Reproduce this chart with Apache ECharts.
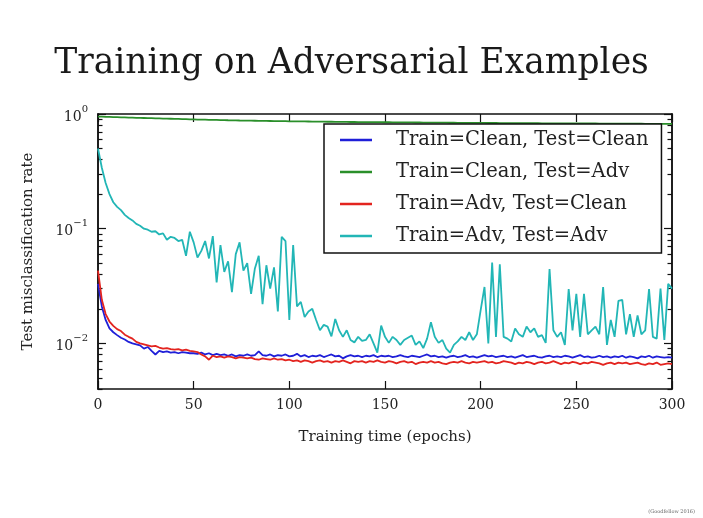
<!DOCTYPE html>
<html>
<head>
<meta charset="utf-8">
<script src="https://cdn.jsdelivr.net/npm/echarts@6/dist/echarts.min.js"></script>
<style>
html, body { margin: 0; padding: 0; background: #fff; }
#chart { width: 703px; height: 518px; }
</style>
</head>
<body>
<div id="chart"></div>
<script>
// epochs 0..300, every 2nd epoch
const epochs = Array.from({ length: 151 }, (_, i) => i * 2)

const seriesNames = [
  'Train=Clean, Test=Clean',
  'Train=Clean, Test=Adv',
  'Train=Adv, Test=Clean',
  'Train=Adv, Test=Adv',
]

const cleanClean = [
  0.033, 0.021, 0.016, 0.0135, 0.0125, 0.0118, 0.0112, 0.0108, 0.0103, 0.0100,
  0.0098, 0.0096, 0.0090, 0.0093, 0.0086, 0.0080, 0.0086, 0.0084, 0.0085, 0.0083,
  0.0084, 0.0082, 0.0084, 0.0083, 0.0082, 0.0082, 0.0081, 0.0083, 0.0080, 0.0082,
  0.0079, 0.0081, 0.0079, 0.0080, 0.0078, 0.0080, 0.0077, 0.0079, 0.0078, 0.0080,
  0.0078, 0.0079, 0.0085, 0.0079, 0.0078, 0.0080, 0.0077, 0.0079, 0.0078, 0.0080,
  0.0077, 0.0078, 0.0081, 0.0077, 0.0079, 0.0076, 0.0078, 0.0077, 0.0079, 0.0076,
  0.0078, 0.0080, 0.0077, 0.0078, 0.0074, 0.0077, 0.0079, 0.0077, 0.0078, 0.0076,
  0.0078, 0.0077, 0.0079, 0.0076, 0.0078, 0.0077, 0.0078, 0.0076, 0.0077, 0.0079,
  0.0077, 0.0076, 0.0078, 0.0077, 0.0076, 0.0078, 0.0080, 0.0077, 0.0078, 0.0076,
  0.0077, 0.0075, 0.0077, 0.0078, 0.0076, 0.0077, 0.0079, 0.0076, 0.0077, 0.0075,
  0.0077, 0.0079, 0.0077, 0.0078, 0.0076, 0.0077, 0.0078, 0.0076, 0.0077, 0.0075,
  0.0077, 0.0079, 0.0076, 0.0077, 0.0078, 0.0076, 0.0075, 0.0077, 0.0078, 0.0076,
  0.0077, 0.0076, 0.0078, 0.0077, 0.0075, 0.0077, 0.0079, 0.0076, 0.0077, 0.0075,
  0.0076, 0.0078, 0.0076, 0.0077, 0.0075, 0.0077, 0.0076, 0.0078, 0.0075, 0.0077,
  0.0076, 0.0074, 0.0077, 0.0076, 0.0078, 0.0075, 0.0077, 0.0076, 0.0075, 0.0076,
  0.0075,
]

const cleanAdv = [
  0.950, 0.948, 0.945, 0.943, 0.940, 0.938, 0.935, 0.933, 0.931, 0.929, 0.927,
  0.925, 0.923, 0.921, 0.919, 0.917, 0.915, 0.913, 0.911, 0.909, 0.907,
  0.905, 0.903, 0.901, 0.899, 0.897, 0.895, 0.893, 0.892, 0.890, 0.888,
  0.887, 0.885, 0.884, 0.882, 0.881, 0.880, 0.878, 0.877, 0.876, 0.874,
  0.873, 0.872, 0.871, 0.870, 0.869, 0.868, 0.867, 0.866, 0.865, 0.864,
  0.863, 0.862, 0.862, 0.861, 0.860, 0.859, 0.858, 0.858, 0.857, 0.856,
  0.856, 0.855, 0.854, 0.854, 0.853, 0.852, 0.852, 0.851, 0.851, 0.850,
  0.849, 0.849, 0.848, 0.848, 0.847, 0.847, 0.846, 0.846, 0.845, 0.845,
  0.844, 0.844, 0.843, 0.843, 0.842, 0.842, 0.841, 0.841, 0.840, 0.840,
  0.840, 0.839, 0.839, 0.838, 0.838, 0.838, 0.837, 0.837, 0.836, 0.836,
  0.836, 0.835, 0.835, 0.835, 0.834, 0.834, 0.833, 0.833, 0.833, 0.832,
  0.832, 0.832, 0.831, 0.831, 0.831, 0.830, 0.830, 0.830, 0.829, 0.829,
  0.829, 0.828, 0.828, 0.828, 0.827, 0.827, 0.827, 0.826, 0.826, 0.826,
  0.825, 0.825, 0.825, 0.824, 0.824, 0.824, 0.823, 0.823, 0.823, 0.822,
  0.822, 0.822, 0.821, 0.821, 0.821, 0.820, 0.820, 0.820, 0.819, 0.819,
]

const advClean = [
  0.043, 0.024, 0.018, 0.0155, 0.0142, 0.0133, 0.0128, 0.0119, 0.0114, 0.0110,
  0.0103, 0.0100, 0.0098, 0.0096, 0.0094, 0.0095, 0.0092, 0.0090, 0.0091, 0.0089,
  0.0088, 0.0089, 0.0087, 0.0088, 0.0086, 0.0085, 0.0084, 0.0080, 0.0077, 0.0072,
  0.0078, 0.0076, 0.0077, 0.0075, 0.0077, 0.0076, 0.0074, 0.0076, 0.0075, 0.0074,
  0.0075, 0.0073, 0.0072, 0.0074, 0.0073, 0.0072, 0.0074, 0.0072, 0.0073, 0.0071,
  0.0072, 0.0070, 0.0071, 0.0069, 0.0071, 0.0070, 0.0068, 0.0070, 0.0071, 0.0069,
  0.0070, 0.0068, 0.0070, 0.0069, 0.0071, 0.0069, 0.0067, 0.0070, 0.0069, 0.0070,
  0.0068, 0.0070, 0.0069, 0.0071, 0.0069, 0.0068, 0.0070, 0.0069, 0.0067, 0.0069,
  0.0070, 0.0068, 0.0069, 0.0066, 0.0068, 0.0069, 0.0068, 0.0070, 0.0068, 0.0069,
  0.0067, 0.0066, 0.0068, 0.0069, 0.0068, 0.0070, 0.0068, 0.0067, 0.0069, 0.0068,
  0.0069, 0.0070, 0.0068, 0.0069, 0.0067, 0.0068, 0.0070, 0.0069, 0.0068, 0.0066,
  0.0068, 0.0067, 0.0069, 0.0068, 0.0066, 0.0068, 0.0069, 0.0067, 0.0068, 0.0070,
  0.0068, 0.0066, 0.0068, 0.0067, 0.0069, 0.0068, 0.0066, 0.0068, 0.0067, 0.0069,
  0.0068, 0.0067, 0.0065, 0.0067, 0.0068, 0.0066, 0.0068, 0.0067, 0.0068, 0.0066,
  0.0067, 0.0068, 0.0066, 0.0065, 0.0067, 0.0066, 0.0068, 0.0065, 0.0066, 0.0067,
  0.0066,
]

const advAdv = [
  0.50, 0.34, 0.25, 0.20, 0.17, 0.155, 0.145, 0.132, 0.124, 0.118,
  0.110, 0.106, 0.100, 0.098, 0.094, 0.095, 0.089, 0.091, 0.080, 0.085,
  0.083, 0.078, 0.080, 0.058, 0.094, 0.076, 0.056, 0.064, 0.078, 0.055,
  0.086, 0.034, 0.072, 0.042, 0.052, 0.028, 0.060, 0.076, 0.043, 0.050,
  0.027, 0.045, 0.058, 0.022, 0.048, 0.030, 0.046, 0.019, 0.085, 0.078,
  0.016, 0.072, 0.021, 0.023, 0.017, 0.019, 0.020, 0.016, 0.013, 0.0145,
  0.014, 0.0115, 0.0163, 0.013, 0.0114, 0.013, 0.0107, 0.0102, 0.0114, 0.0105,
  0.0107, 0.012, 0.0100, 0.0083, 0.0143, 0.0114, 0.0101, 0.0114, 0.0107, 0.0097,
  0.0107, 0.0112, 0.0117, 0.0097, 0.0104, 0.0091, 0.0110, 0.0153, 0.0114, 0.0101,
  0.0107, 0.0090, 0.0083, 0.0097, 0.0104, 0.0114, 0.0107, 0.0125, 0.0107, 0.0120,
  0.0195, 0.031, 0.0100, 0.0506, 0.0114, 0.049, 0.0114, 0.0110, 0.0104, 0.0135,
  0.0120, 0.0114, 0.0140, 0.0125, 0.0135, 0.0114, 0.0118, 0.0101, 0.0444, 0.0130,
  0.0114, 0.0125, 0.0097, 0.0298, 0.0130, 0.0270, 0.0114, 0.0270, 0.0120, 0.0130,
  0.0140, 0.0120, 0.0310, 0.0097, 0.0160, 0.0114, 0.0235, 0.0240, 0.0120, 0.0180,
  0.0114, 0.0175, 0.0120, 0.0130, 0.0298, 0.0114, 0.0110, 0.0300, 0.0107, 0.0330,
  0.0300,
]

const xTicks = { min: 0, max: 300, interval: 50 }
const yRange = { min: 0.004, max: 1 }
const majorYTicks = [0.01, 0.1, 1]
const minorYTicks = [
  0.004, 0.005, 0.006, 0.007, 0.008, 0.009,
  0.02, 0.03, 0.04, 0.05, 0.06, 0.07, 0.08, 0.09,
  0.2, 0.3, 0.4, 0.5, 0.6, 0.7, 0.8, 0.9,
]

const colors = ['#1f1fd8', '#2a8f2a', '#e3241f', '#22b6b6']
const FONT = 'DejaVu Serif'
const frame = { color: '#111', width: 1.5 }
const tickStyle = { color: '#111', width: 1.2 }

const chart = echarts.init(document.getElementById('chart'))

function supLabel(v) {
  const e = Math.round(Math.log10(v))
  return '{b|10}{s|' + (e < 0 ? '\u2212' + -e : e) + '}'
}

function yAxisFor(position, ticks, len, withLabels) {
  return {
    type: 'log',
    logBase: 10,
    position,
    min: yRange.min,
    max: yRange.max,
    axisLine: { show: true, onZero: false, lineStyle: frame },
    axisTick: { show: true, inside: true, length: len, customValues: ticks, lineStyle: tickStyle },
    axisLabel: withLabels
      ? {
          show: true,
          customValues: ticks,
          margin: 10,
          formatter: supLabel,
          rich: {
            b: { fontFamily: FONT, fontSize: 14, color: '#222', lineHeight: 20, verticalAlign: 'bottom' },
            s: { fontFamily: FONT, fontSize: 10, color: '#222', lineHeight: 11, verticalAlign: 'top' },
          },
        }
      : { show: false },
    splitLine: { show: false },
    minorTick: { show: false },
  }
}

const leftAxis = yAxisFor('left', majorYTicks, 8, true)
leftAxis.name = 'Test misclassification rate'
leftAxis.nameLocation = 'middle'
leftAxis.nameGap = 62
leftAxis.nameTextStyle = { fontFamily: FONT, fontSize: 15, color: '#222' }

const lines = [cleanClean, cleanAdv, advClean, advAdv]

chart.setOption({
  animation: false,
  backgroundColor: '#fff',
  title: {
    text: 'Training on Adversarial Examples',
    left: 'center',
    top: 42,
    textStyle: { fontFamily: FONT, fontSize: 34.5, fontWeight: 'normal', color: '#1a1a1a' },
  },
  grid: { left: 98, right: 31, top: 114, bottom: 129 },
  legend: {
    orient: 'vertical',
    left: 324,
    top: 124,
    backgroundColor: '#fff',
    borderColor: '#111',
    borderWidth: 1.5,
    borderRadius: 0,
    padding: [6, 13, 7, 16],
    icon: 'rect',
    itemWidth: 32,
    itemHeight: 2.5,
    itemGap: 12,
    textStyle: { fontFamily: FONT, fontSize: 19.5, color: '#222', lineHeight: 20, padding: [0, 0, 0, 19] },
    data: seriesNames,
  },
  xAxis: [
    {
      type: 'value',
      position: 'bottom',
      ...xTicks,
      axisLine: { show: true, onZero: false, lineStyle: frame },
      axisTick: { inside: true, length: 8, lineStyle: tickStyle },
      axisLabel: { fontFamily: FONT, fontSize: 14, color: '#222', margin: 9 },
      splitLine: { show: false },
      name: 'Training time (epochs)',
      nameLocation: 'middle',
      nameGap: 41,
      nameTextStyle: { fontFamily: FONT, fontSize: 15, color: '#222' },
    },
    {
      type: 'value',
      position: 'top',
      ...xTicks,
      axisLine: { show: true, onZero: false, lineStyle: frame },
      axisTick: { inside: true, length: 8, lineStyle: tickStyle },
      axisLabel: { show: false },
      splitLine: { show: false },
    },
  ],
  yAxis: [
    leftAxis,
    yAxisFor('left', minorYTicks, 4.5, false),
    yAxisFor('right', majorYTicks, 8, false),
    yAxisFor('right', minorYTicks, 4.5, false),
  ],
  series: lines.map((vals, i) => ({
    name: seriesNames[i],
    type: 'line',
    xAxisIndex: 0,
    yAxisIndex: 0,
    data: epochs.map((e, j) => [e, vals[j]]),
    symbol: 'none',
    showSymbol: false,
    lineStyle: { width: 1.8, color: colors[i] },
    itemStyle: { color: colors[i] },
  })),
  graphic: [
    {
      type: 'text',
      right: 8,
      bottom: 4,
      style: { text: '(Goodfellow 2016)', fontFamily: FONT, fontSize: 5, fill: '#666' },
    },
  ],
})
</script>
</body>
</html>
